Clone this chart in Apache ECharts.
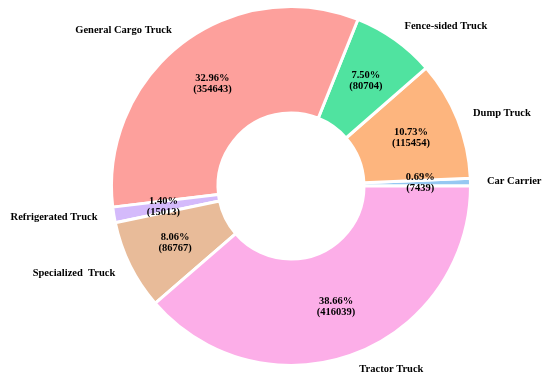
<!DOCTYPE html>
<html>
<head>
<meta charset="utf-8">
<script src="https://cdn.jsdelivr.net/npm/echarts@6/dist/echarts.min.js"></script>
<style>
html,body{margin:0;padding:0;background:#fff;}
#chart{width:550px;height:382px;}
</style>
</head>
<body>
<div id="chart"></div>
<script>
const categories = ['Car Carrier', 'Dump Truck', 'Fence-sided Truck', 'General Cargo Truck', 'Refrigerated Truck', 'Specialized  Truck', 'Tractor Truck'];
const values = [7439, 115454, 80704, 354643, 15013, 86767, 416039];
const colors = ['#96c8f2', '#fdb57e', '#50e3a0', '#fda09c', '#d4bafb', '#e8bb99', '#fcaee8'];

const total = values.reduce((a, b) => a + b, 0);
const data = categories.map((n, i) => ({ name: n, value: values[i], itemStyle: { color: colors[i] } }));
const font = '"Liberation Serif", "Times New Roman", serif';

const chart = echarts.init(document.getElementById('chart'), null, { renderer: 'canvas' });
chart.setOption({
  animation: false,
  backgroundColor: '#ffffff',
  series: [
    {
      type: 'pie',
      center: [291, 186],
      radius: [73, 179.5],
      startAngle: 0,
      clockwise: false,
      avoidLabelOverlap: false,
      silent: true,
      itemStyle: { borderColor: '#ffffff', borderWidth: 3 },
      label: {
        show: true,
        position: 'inside',
        fontFamily: font,
        fontWeight: 'bold',
        fontSize: 10.5,
        lineHeight: 11,
        color: '#000',
        formatter: p => (p.value / total * 100).toFixed(2) + '%\n(' + p.value + ')'
      },
      labelLine: { show: false },
      data: data
    },
    {
      type: 'pie',
      center: [291, 186],
      radius: [73, 178],
      startAngle: 0,
      clockwise: false,
      avoidLabelOverlap: false,
      silent: true,
      itemStyle: { color: 'rgba(0,0,0,0)', borderWidth: 0 },
      label: {
        show: true,
        position: 'outside',
        alignTo: 'none',
        distanceToLabelLine: 0,
        fontFamily: font,
        fontWeight: 'bold',
        fontSize: 10.5,
        color: '#000',
        formatter: '{b}'
      },
      labelLine: { show: false, length: 18, length2: 0 },
      data: categories.map((n, i) => ({ name: n, value: values[i] }))
    }
  ]
});
</script>
</body>
</html>
